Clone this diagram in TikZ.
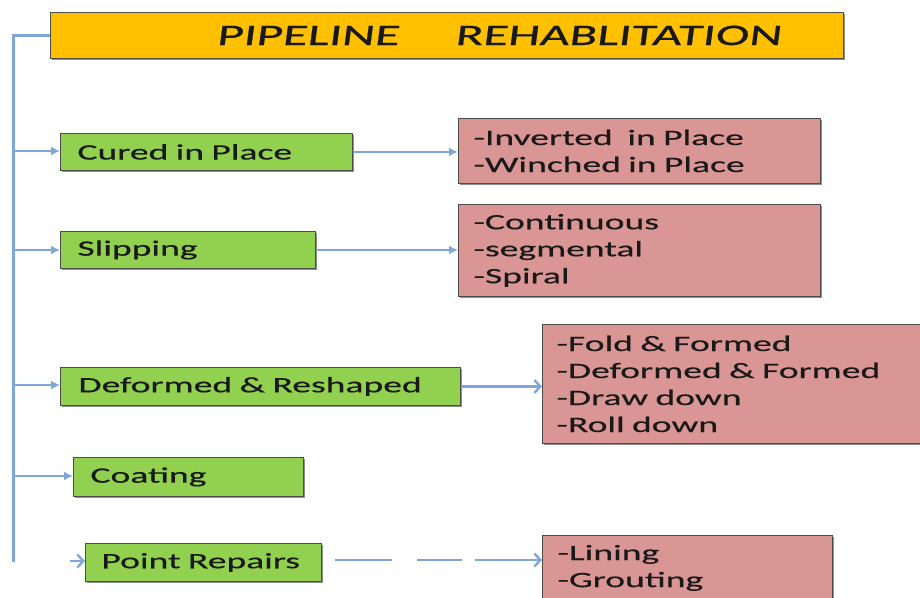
\documentclass[tikz,border=0pt]{standalone}
\usepackage{fontspec}
\setmainfont{Carlito}[FakeStretch=1.71, FakeBold=0.4]
\newfontfamily\titlefont{Carlito}[FakeStretch=1.71, FakeSlant=0.13, FakeBold=0.6]
\usetikzlibrary{arrows.meta,shadows}
\definecolor{titleor}{HTML}{FFC000}
\definecolor{grn}{HTML}{92D050}
\definecolor{pnk}{HTML}{D99694}
\definecolor{lnblue}{HTML}{7EA6D9}
\tikzset{
  basebox/.style={draw=black!70, line width=0.9pt, rectangle, anchor=north west,
    inner ysep=0pt, align=left, text=black!90,
    drop shadow={shadow xshift=1.6pt, shadow yshift=-1.6pt, fill=black!55, opacity=0.8}},
  titlebox/.style={basebox, fill=titleor, inner xsep=0pt,
    font=\titlefont\fontsize{29.8}{34}\selectfont},
  gbox/.style={basebox, fill=grn, font=\fontsize{22}{27}\selectfont},
  pbox/.style={basebox, fill=pnk, font=\fontsize{22}{27}\selectfont},
  trunk/.style={draw=lnblue, line width=3pt},
  conn/.style={draw=lnblue, line width=2.4pt, -{Latex[length=9pt,width=9pt]}},
  barb/.style={draw=lnblue, line width=2.4pt, -{Straight Barb[length=6pt,width=13pt]}},
}
\begin{document}
\begin{tikzpicture}[x=1pt,y=-1pt]
\clip (0,0) rectangle (920,597);
\fill[white] (0,0) rectangle (920,597);

% title
\node[titlebox, text width=793pt, minimum height=46pt] (title) at (50,12)
  {\hspace*{166pt}PIPELINE\hspace{56pt}REHABLITATION};

% green boxes
\node[gbox, text width=258pt, minimum height=37pt, inner xsep=17pt] (cip) at (60,133) {Cured in Place};
\node[gbox, text width=221pt, minimum height=37pt, inner xsep=17pt] (slip) at (60,231) {Slipping};
\node[gbox, text width=364pt, minimum height=38pt, inner xsep=18pt] (dr) at (60,367) {Deformed \& Reshaped};
\node[gbox, text width=196pt, minimum height=39pt, inner xsep=17pt] (coat) at (73,457) {Coating};
\node[gbox, text width=204pt, minimum height=38pt, inner xsep=16pt] (pr) at (85,543) {Point Repairs};

% pink boxes
\node[pbox, text width=332pt, minimum height=65pt, inner xsep=15pt] (cipL) at (458,118)
  {-Inverted\ \ in Place\\-Winched in Place};
\node[pbox, text width=332pt, minimum height=92pt, inner xsep=15pt] (slipL) at (458,204)
  {-Continuous\\-segmental\\-Spiral};
\node[pbox, text width=365pt, minimum height=119pt, inner xsep=14pt] (drL) at (542,324)
  {-Fold \& Formed\\-Deformed \& Formed\\-Draw down\\-Roll down};
\node[pbox, text width=260pt, minimum height=65pt, inner xsep=15pt] (prL) at (542,535)
  {-Lining\\-Grouting};

% trunk and branches
\coordinate (t0) at (13,35);
\coordinate (t1) at (13,151);
\coordinate (t2) at (13,250);
\coordinate (t3) at (13,385);
\coordinate (t4) at (13,476);
\coordinate (t5) at (13,562);
\coordinate (prs) at (70,561);
\draw[trunk] (title.west |- t0) -- (t0) -- (t5);
\draw[conn] (t1) -- (cip.west |- t1);
\draw[conn] (t2) -- (slip.west |- t2);
\draw[conn] (t3) -- (dr.west |- t3);
\draw[conn] (t4) -- (coat.west |- t4);
\draw[barb] (prs) -- (pr.west |- prs);

% right connectors
\draw[conn] (cip.east) -- (cipL.west |- cip.east);
\draw[conn] (slip.east) -- (slipL.west |- slip.east);
\draw[barb] (dr.east) -- (drL.west |- dr.east);
\coordinate (prd) at (335,560);
\draw[barb, dash pattern=on 57pt off 25pt on 45pt off 13pt on 90pt off 0pt] (prd) -- (prL.west |- prd);
\end{tikzpicture}
\end{document}
